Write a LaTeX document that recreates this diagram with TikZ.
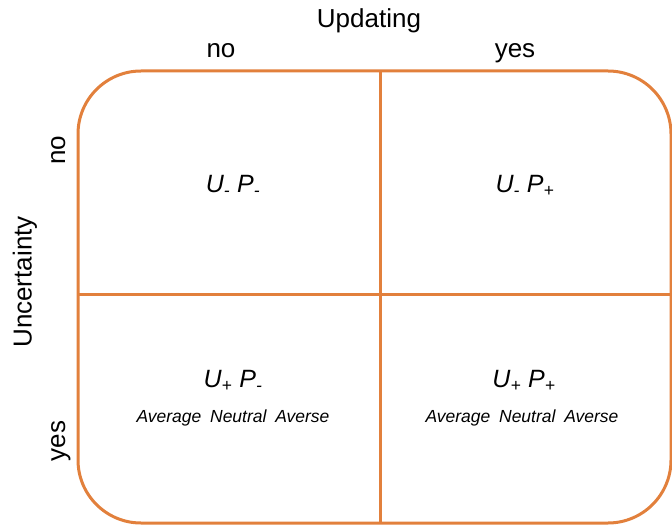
\documentclass[tikz,border=0pt]{standalone}
\usepackage{fontspec}
\setmainfont{Liberation Sans}
\definecolor{gridorange}{RGB}{226,128,60}
\tikzset{
  frame/.style={draw=gridorange, line width=3bp},
  head/.style={font=\fontsize{26bp}{30bp}\selectfont, inner sep=0pt},
  cell/.style={font=\fontsize{25bp}{29bp}\selectfont\itshape, inner sep=0pt},
  note/.style={font=\fontsize{17.5bp}{20bp}\selectfont\itshape, inner sep=0pt}
}
\newcommand{\lo}[1]{\textsubscript{#1}}
\begin{document}
\begin{tikzpicture}[x=1bp,y=-1bp]
  \useasboundingbox (0,0) rectangle (672,526);
  % quadrant frame
  \coordinate (tl) at (78,71);
  \coordinate (br) at (671,523);
  \coordinate (vtop) at (380,71);
  \coordinate (vbot) at (380,523);
  \coordinate (hl) at (78,294);
  \coordinate (hr) at (671,294);
  \draw[frame, rounded corners=63bp] (tl) rectangle (br);
  \draw[frame] (vtop) -- (vbot);
  \draw[frame] (hl) -- (hr);
  % axis headings
  \node[head, anchor=base] (upd) at (369,28) {Updating};
  \node[head, anchor=base] (updno) at (221,58) {no};
  \node[head, anchor=base] (updyes) at (515,58) {yes};
  \node[head, rotate=90] (unc) at (25,282) {Uncertainty};
  \node[head, rotate=90, anchor=base] (uncno) at (65,150) {no};
  \node[head, rotate=90, anchor=base] (uncyes) at (65,441) {yes};
  % quadrant labels
  \node[cell] (c11) at (233,186) {U\lo{-} P\lo{-}};
  \node[cell] (c12) at (525,186) {U\lo{-} P\lo{+}};
  \node[cell] (c21) at (233,381) {U\lo{+} P\lo{-}};
  \node[cell] (c22) at (524,381) {U\lo{+} P\lo{+}};
  \node[note] (n21) at (233,418) {Average\hspace{0.5em}Neutral\hspace{0.5em}Averse};
  \node[note] (n22) at (522,418) {Average\hspace{0.5em}Neutral\hspace{0.5em}Averse};
\end{tikzpicture}
\end{document}
